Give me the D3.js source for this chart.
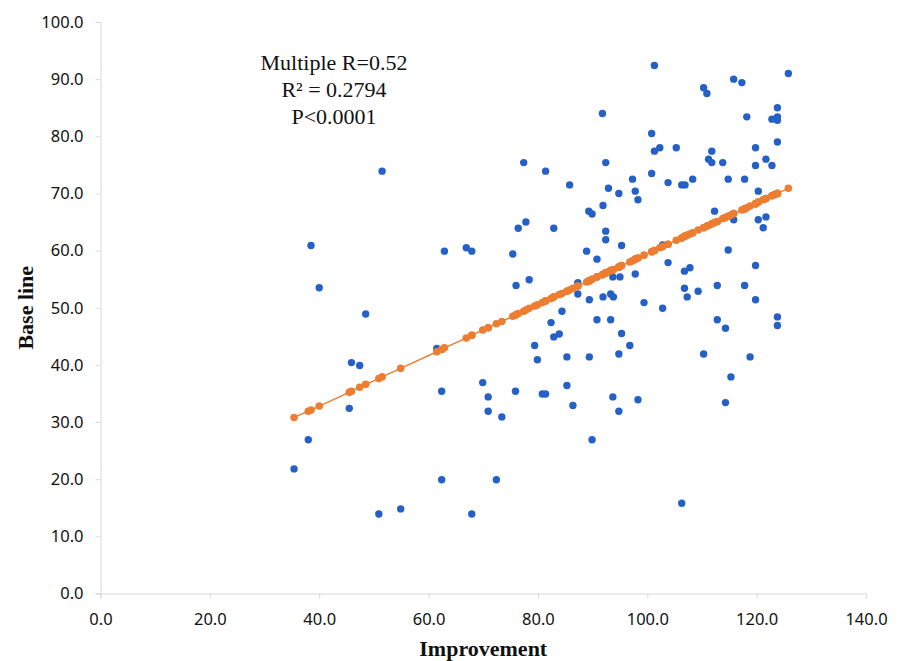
<!DOCTYPE html>
<html>
<head>
<meta charset="utf-8">
<script src="https://cdn.jsdelivr.net/npm/d3@7"></script>
<style>
  body { margin: 0; background: #fff; }
  .axis path, .axis line { stroke: #d9d9d9; }
  .axis text { font-family: "Noto Sans", sans-serif; font-size: 16.5px; fill: #111; }
</style>
</head>
<body>
<svg id="chart" width="899" height="661"></svg>
<script>
// Improvement (x) and Base line (y) for every subject
const improvement = [35.4, 38.0, 38.5, 40.0, 45.5, 45.9, 47.4, 48.5, 50.9, 51.5, 54.9, 61.5, 62.4, 62.4, 62.9,
  66.9, 67.9, 67.9, 69.9, 70.9, 70.9, 72.4, 73.4, 75.4, 75.9, 76.0, 76.4, 77.4, 77.8, 78.4,
  79.4, 79.9, 80.8, 81.4, 81.4, 82.4, 82.9, 82.9, 83.9, 84.4, 85.3, 85.3, 85.8, 86.4, 87.3,
  87.3, 88.9, 89.3, 89.9, 89.4, 89.4, 89.9, 90.8, 90.8, 91.8, 91.9, 91.9, 92.4, 92.4, 92.4,
  92.9, 93.3, 93.8, 93.3, 93.7, 95.0, 93.7, 94.8, 94.8, 94.8, 95.3, 95.3, 96.8, 97.3, 97.8,
  98.3, 97.8, 98.3, 99.4, 100.8, 101.3, 101.3, 102.3, 100.8, 102.8, 102.8, 103.8, 103.8, 105.3, 106.3,
  106.9, 106.3, 106.8, 107.8, 106.8, 107.3, 108.3, 109.3, 110.3, 110.9, 110.3, 111.2, 111.8, 111.8, 112.3,
  112.8, 112.8, 113.8, 114.3, 114.3, 114.8, 114.8, 115.3, 115.8, 115.8, 117.3, 117.8, 117.8, 118.2, 118.8,
  119.8, 119.8, 119.8, 119.8, 120.3, 120.3, 121.7, 121.2, 121.7, 122.8, 122.8, 123.8, 123.8, 123.8, 123.8,
  123.8, 123.8, 125.8, 123.3];

const baseline = [21.8, 26.9, 60.9, 53.5, 32.4, 40.4, 39.9, 48.9, 13.9, 73.9, 14.8, 42.9, 35.4, 19.9, 59.9,
  60.5, 59.9, 13.9, 36.9, 34.4, 31.9, 19.9, 30.9, 59.4, 35.4, 53.9, 63.9, 75.4, 65.0, 54.9,
  43.4, 40.9, 34.9, 34.9, 73.9, 47.4, 44.9, 63.9, 45.4, 49.4, 41.4, 36.4, 71.5, 32.9, 52.4,
  54.4, 59.9, 66.9, 66.4, 51.4, 41.4, 26.9, 58.5, 47.9, 84.0, 67.9, 51.9, 75.4, 63.4, 61.9,
  70.9, 52.4, 51.9, 47.9, 55.4, 55.4, 34.4, 70.0, 41.9, 31.9, 60.9, 45.5, 43.4, 72.5, 70.4,
  68.9, 55.9, 33.9, 50.9, 80.5, 92.4, 77.4, 78.0, 73.5, 61.0, 49.9, 71.9, 57.9, 78.0, 71.5,
  71.5, 15.8, 56.4, 57.0, 53.4, 51.9, 72.5, 52.9, 88.5, 87.5, 41.9, 76.0, 77.4, 75.4, 66.9,
  53.9, 47.9, 75.4, 46.4, 33.4, 72.5, 60.1, 37.9, 90.0, 65.4, 89.4, 72.5, 53.9, 83.4, 41.4,
  78.0, 74.9, 57.4, 51.4, 70.4, 65.4, 65.9, 64.0, 76.0, 83.0, 74.9, 85.0, 83.4, 82.8, 79.0,
  48.4, 46.9, 91.0, 69.8];

// Predicted base line (orange series), same order as above
const predicted = [30.8, 31.9, 32.1, 32.8, 35.2, 35.4, 36.1, 36.6, 37.6, 37.9, 39.4, 42.3, 42.7, 42.7, 43.0,
  44.7, 45.2, 45.2, 46.1, 46.5, 46.5, 47.2, 47.6, 48.5, 48.7, 48.8, 49.0, 49.4, 49.6, 49.9,
  50.3, 50.5, 50.9, 51.2, 51.2, 51.6, 51.9, 51.9, 52.3, 52.5, 52.9, 52.9, 53.1, 53.4, 53.8,
  53.8, 54.5, 54.7, 55.0, 54.7, 54.7, 55.0, 55.4, 55.4, 55.8, 55.8, 55.8, 56.1, 56.1, 56.1,
  56.3, 56.5, 56.7, 56.5, 56.6, 57.2, 56.6, 57.1, 57.1, 57.1, 57.4, 57.4, 58.0, 58.2, 58.5,
  58.7, 58.5, 58.7, 59.2, 59.8, 60.0, 60.0, 60.5, 59.8, 60.7, 60.7, 61.1, 61.1, 61.8, 62.2,
  62.5, 62.2, 62.5, 62.9, 62.5, 62.7, 63.1, 63.6, 64.0, 64.3, 64.0, 64.4, 64.7, 64.7, 64.9,
  65.1, 65.1, 65.6, 65.8, 65.8, 66.0, 66.0, 66.2, 66.5, 66.5, 67.1, 67.3, 67.3, 67.5, 67.8,
  68.2, 68.2, 68.2, 68.2, 68.5, 68.5, 69.1, 68.9, 69.1, 69.6, 69.6, 70.0, 70.0, 70.0, 70.0,
  70.0, 70.0, 70.9, 69.8];

const xTicks = [0, 20, 40, 60, 80, 100, 120, 140];
const yTicks = [0, 10, 20, 30, 40, 50, 60, 70, 80, 90, 100];
const statLines = ["Multiple R=0.52", "R\u00b2 = 0.2794", "P<0.0001"];

const svg = d3.select("#chart");

// scales
const x = d3.scaleLinear().domain([0, 140]).range([100.5, 866]);
const y = d3.scaleLinear().domain([0, 100]).range([593.5, 22]);
const fmt = d3.format(".1f");

// axes
const xAxisG = svg.append("g")
    .attr("class", "axis")
    .attr("transform", "translate(0," + y(0) + ")")
    .call(d3.axisBottom(x).tickValues(xTicks).tickFormat(fmt).tickSizeOuter(0).tickSize(5));
xAxisG.selectAll("text").attr("y", 20).attr("dy", "0.71em");

const yAxisG = svg.append("g")
    .attr("class", "axis")
    .attr("transform", "translate(" + x(0) + ",0)")
    .call(d3.axisLeft(y).tickValues(yTicks).tickFormat(fmt).tickSizeOuter(0).tickSize(5));
yAxisG.selectAll("text").attr("x", -17);
svg.selectAll(".axis .domain").attr("stroke", "#d9d9d9");

// blue points
svg.append("g")
    .selectAll("circle")
    .data(improvement)
    .enter().append("circle")
    .attr("cx", function(d) { return x(d); })
    .attr("cy", function(d, i) { return y(baseline[i]); })
    .attr("r", 3.7)
    .attr("fill", "#2460c6");

// predicted line + points (orange, drawn on top)
const pred = improvement.map(function(d, i) { return {x: d, y: predicted[i]}; })
    .sort(function(a, b) { return a.x - b.x; });

svg.append("path")
    .datum(pred)
    .attr("fill", "none")
    .attr("stroke", "#ed7d31")
    .attr("stroke-width", 1.4)
    .attr("d", d3.line().x(function(d) { return x(d.x); }).y(function(d) { return y(d.y); }));

svg.append("g")
    .selectAll("circle")
    .data(pred)
    .enter().append("circle")
    .attr("cx", function(d) { return x(d.x); })
    .attr("cy", function(d) { return y(d.y); })
    .attr("r", 3.8)
    .attr("fill", "#ed7d31");

// stats text
svg.append("g")
    .selectAll("text")
    .data(statLines)
    .enter().append("text")
    .attr("x", 334)
    .attr("y", function(d, i) { return 70 + i * 27; })
    .attr("text-anchor", "middle")
    .attr("font-family", "'Liberation Serif', 'Times New Roman', serif")
    .attr("font-size", "22px")
    .attr("fill", "#111")
    .text(function(d) { return d; });

// axis titles
svg.append("text")
    .attr("x", (x(0) + x(140)) / 2)
    .attr("y", 656)
    .attr("text-anchor", "middle")
    .attr("font-family", "'Liberation Serif', 'Times New Roman', serif")
    .attr("font-weight", "bold")
    .attr("font-size", "22px")
    .attr("fill", "#111")
    .text("Improvement");

svg.append("text")
    .attr("transform", "translate(33," + (y(0) + y(100)) / 2 + ") rotate(-90)")
    .attr("text-anchor", "middle")
    .attr("font-family", "'Liberation Serif', 'Times New Roman', serif")
    .attr("font-weight", "bold")
    .attr("font-size", "22px")
    .attr("fill", "#111")
    .text("Base line");
</script>
</body>
</html>
